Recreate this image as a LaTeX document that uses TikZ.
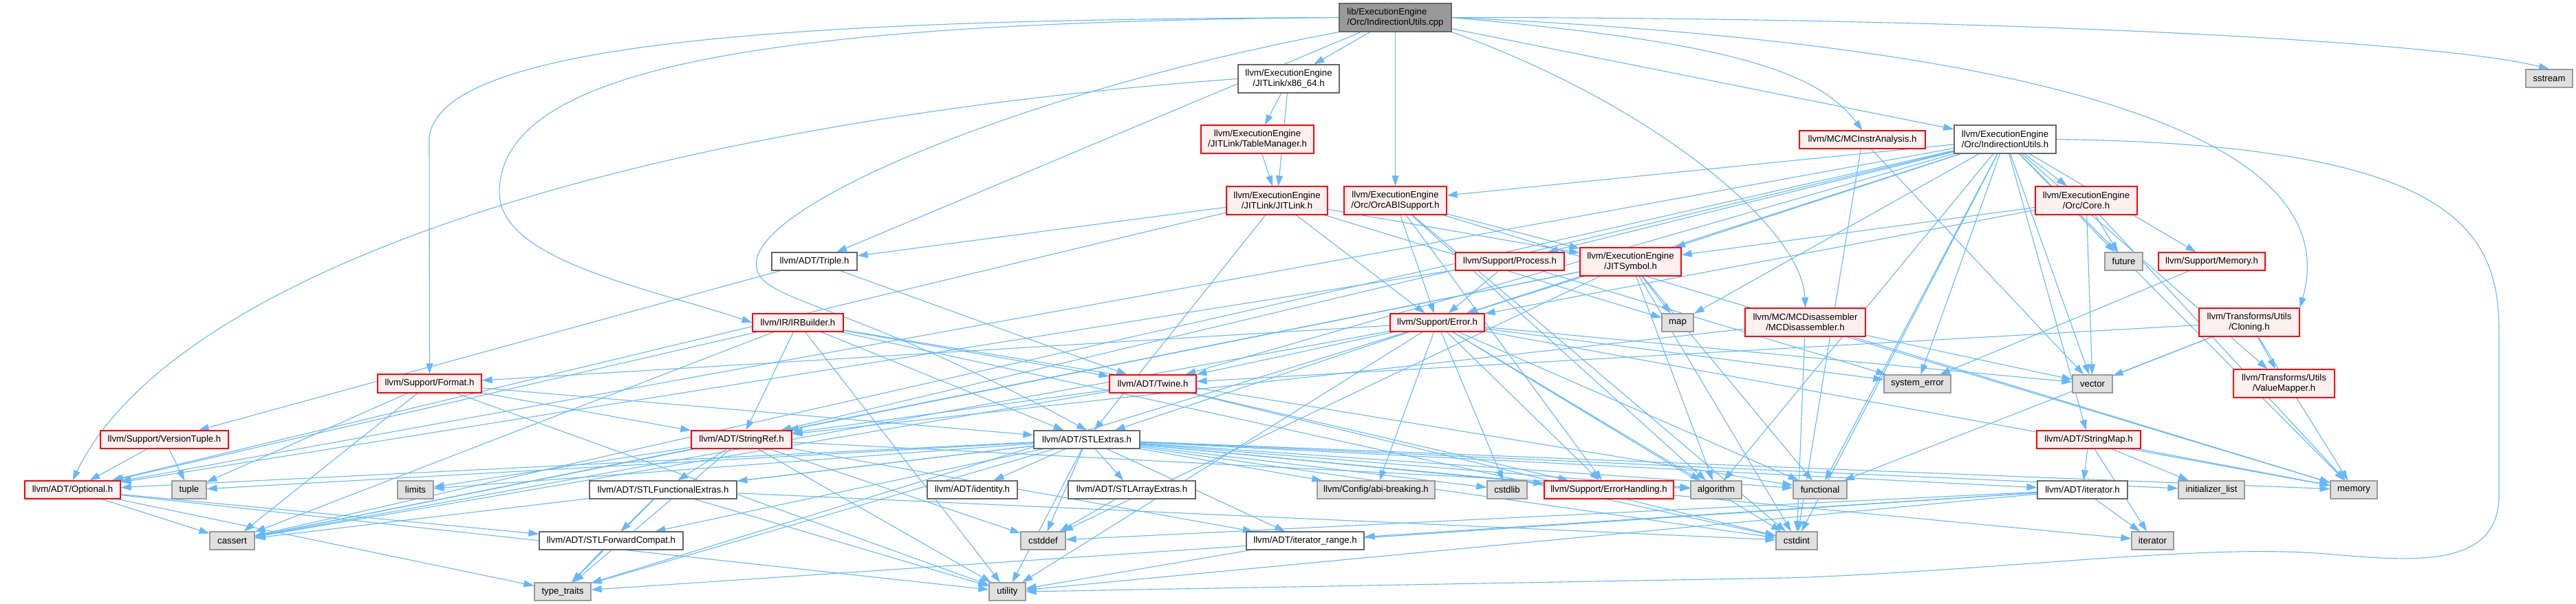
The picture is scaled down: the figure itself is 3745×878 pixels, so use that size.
\documentclass[tikz,border=0pt]{standalone}
\usepackage{fontspec}
\setmainfont{Liberation Sans}
\usetikzlibrary{arrows.meta,backgrounds}
\definecolor{edgec}{HTML}{63B8FF}
\definecolor{redb}{HTML}{FF0000}
\definecolor{redf}{HTML}{FFF0F0}
\definecolor{grayb}{HTML}{999999}
\definecolor{grayf}{HTML}{E0E0E0}
\definecolor{whiteb}{HTML}{666666}
\definecolor{rootf}{HTML}{999999}
\newcommand\gnode[7]{\node[#6, minimum width=#3pt-#2pt, minimum height=#5pt-#4pt] (#1) at ({(#2+#3)/2},{(#4+#5)/2}) {#7};}
\begin{document}
\begin{tikzpicture}[x=1pt,y=-1pt,
  nbase/.style={draw, line width=1.2pt, inner sep=0pt, align=center, text=black, font=\fontsize{13.2}{15}\selectfont},
  redbox/.style={nbase, draw=redb, fill=redf},
  graybox/.style={nbase, draw=grayb, fill=grayf},
  whitebox/.style={nbase, draw=whiteb, fill=white},
  rootbox/.style={nbase, draw=whiteb, fill=rootf, align=left},
  edg/.style={draw=edgec, line width=1.1pt, -{Triangle[length=15pt,width=10pt]}}]
\useasboundingbox (0,0) rectangle (3745,878);
% nodes
\gnode{root}{1947}{2110}{5}{46}{rootbox}{lib/ExecutionEngine\\/Orc/IndirectionUtils.cpp}
\gnode{x86}{1800}{1947}{94}{135}{whitebox}{llvm/ExecutionEngine\\/JITLink/x86\_64.h}
\gnode{tblmgr}{1746}{1910}{182}{223}{redbox}{llvm/ExecutionEngine\\/JITLink/TableManager.h}
\gnode{jitlink}{1783}{1930}{271}{312}{redbox}{llvm/ExecutionEngine\\/JITLink/JITLink.h}
\gnode{orcabi}{1954}{2103}{271}{312}{redbox}{llvm/ExecutionEngine\\/Orc/OrcABISupport.h}
\gnode{mcinstr}{2616}{2799}{190}{216}{redbox}{llvm/MC/MCInstrAnalysis.h}
\gnode{indir}{2841}{2989}{182}{223}{whitebox}{llvm/ExecutionEngine\\/Orc/IndirectionUtils.h}
\gnode{core}{2959}{3107}{271}{312}{redbox}{llvm/ExecutionEngine\\/Orc/Core.h}
\gnode{sstream}{3672}{3740}{101}{127}{graybox}{sstream}
\gnode{format}{549}{700}{544}{571}{redbox}{llvm/Support/Format.h}
\gnode{triple}{1122}{1246}{367}{393}{whitebox}{llvm/ADT/Triple.h}
\gnode{irb}{1094}{1226}{456}{482}{redbox}{llvm/IR/IRBuilder.h}
\gnode{twine}{1613}{1739}{545}{571}{redbox}{llvm/ADT/Twine.h}
\gnode{process}{2116}{2274}{367}{393}{redbox}{llvm/Support/Process.h}
\gnode{jitsym}{2297}{2444}{360}{401}{redbox}{llvm/ExecutionEngine\\/JITSymbol.h}
\gnode{error}{2021}{2158}{456}{482}{redbox}{llvm/Support/Error.h}
\gnode{map}{2416}{2462}{456}{482}{graybox}{map}
\gnode{mcdis}{2537}{2712}{448}{489}{redbox}{llvm/MC/MCDisassembler\\/MCDisassembler.h}
\gnode{future}{3060}{3115}{367}{393}{graybox}{future}
\gnode{memoryh}{3138}{3293}{367}{393}{redbox}{llvm/Support/Memory.h}
\gnode{cloning}{3197}{3343}{448}{489}{redbox}{llvm/Transforms/Utils\\/Cloning.h}
\gnode{vmap}{3247}{3394}{537}{578}{redbox}{llvm/Transforms/Utils\\/ValueMapper.h}
\gnode{syserr}{2739}{2836}{545}{571}{graybox}{system\_error}
\gnode{vector}{3013}{3071}{545}{571}{graybox}{vector}
\gnode{vtuple}{146}{332}{626}{652}{redbox}{llvm/Support/VersionTuple.h}
\gnode{optional}{36}{175}{699}{725}{redbox}{llvm/ADT/Optional.h}
\gnode{tuple}{250}{300}{699}{725}{graybox}{tuple}
\gnode{limits}{578}{630}{699}{725}{graybox}{limits}
\gnode{cassert}{305}{370}{773}{799}{graybox}{cassert}
\gnode{fwdcompat}{784}{993}{773}{799}{whitebox}{llvm/ADT/STLForwardCompat.h}
\gnode{typetraits}{777}{859}{847}{873}{graybox}{type\_traits}
\gnode{funcext}{857}{1071}{699}{725}{whitebox}{llvm/ADT/STLFunctionalExtras.h}
\gnode{stringref}{1005}{1151}{626}{652}{redbox}{llvm/ADT/StringRef.h}
\gnode{stlextras}{1503}{1657}{626}{652}{whitebox}{llvm/ADT/STLExtras.h}
\gnode{identity}{1348}{1479}{699}{725}{whitebox}{llvm/ADT/identity.h}
\gnode{arrayext}{1553}{1738}{699}{725}{whitebox}{llvm/ADT/STLArrayExtras.h}
\gnode{cstddef}{1484}{1549}{773}{799}{graybox}{cstddef}
\gnode{utility}{1438}{1491}{847}{873}{graybox}{utility}
\gnode{itrange}{1812}{1983}{773}{799}{whitebox}{llvm/ADT/iterator\_range.h}
\gnode{abi}{1915}{2086}{699}{725}{graybox}{llvm/Config/abi-breaking.h}
\gnode{cstdlib}{2162}{2220}{699}{725}{graybox}{cstdlib}
\gnode{errhand}{2245}{2433}{699}{725}{redbox}{llvm/Support/ErrorHandling.h}
\gnode{algorithm}{2458}{2532}{699}{725}{graybox}{algorithm}
\gnode{functional}{2607}{2685}{699}{725}{graybox}{functional}
\gnode{cstdint}{2582}{2642}{773}{799}{graybox}{cstdint}
\gnode{stringmap}{2961}{3112}{626}{652}{redbox}{llvm/ADT/StringMap.h}
\gnode{iteratorh}{2962}{3093}{699}{725}{whitebox}{llvm/ADT/iterator.h}
\gnode{initlist}{3167}{3263}{699}{725}{graybox}{initializer\_list}
\gnode{memory}{3388}{3456}{699}{725}{graybox}{memory}
\gnode{iterator}{3099}{3160}{773}{799}{graybox}{iterator}
% edges
\begin{pgfonlayer}{background}
\fill[white] (0,0) rectangle (3745,878);
\draw[edg] (root.west) .. controls (1200,28) and (640,55) .. (624,200) -- (format.north);
\draw[edg] (root.west) .. controls (1150,32) and (726,90) .. (726,280) .. controls (726,380) and (950,420) .. (irb.west);
\draw[edg] (root.south west) .. controls (1500,130) and (1080,300) .. (1100,390) .. controls (1110,440) and (1240,440) .. (stlextras.north);
\draw[edg] (root.east) .. controls (2900,25) and (3550,60) .. (sstream.north);
\draw[edg] (root.east) .. controls (2900,60) and (3420,180) .. (cloning.north east);
\draw[edg] (root.east) .. controls (2500,60) and (2640,100) .. (mcinstr.north);
\draw[edg] (root.south east) .. controls (2400,150) and (2620,330) .. (mcdis.north);
\draw[edg] (x86.west) .. controls (900,180) and (250,400) .. (optional.north);
\draw[edg] (indir.east) .. controls (3560,210) and (3633,330) .. (3633,480) -- (3633,720) .. controls (3633,830) and (3500,815) .. (3380,805) .. controls (3200,790) and (2900,830) .. (2600,840) -- (utility.east);
\foreach \a/\b in {root/indir, root/x86, root/orcabi, root/triple,
  x86/tblmgr, x86/jitlink, tblmgr/jitlink,
  jitlink/triple, jitlink/jitsym, jitlink/error, jitlink/stlextras, jitlink/optional, jitlink/map,
  orcabi/jitsym, orcabi/error, orcabi/errhand, orcabi/algorithm, orcabi/cstdint, orcabi/memory,
  mcinstr/cstdint, mcinstr/vector,
  indir/stringmap, indir/stringref, indir/twine, indir/jitsym, indir/core, indir/orcabi, indir/error,
  indir/memoryh, indir/process, indir/map, indir/algorithm, indir/cassert, indir/cstdint, indir/functional,
  indir/future, indir/memory, indir/syserr, indir/vector, indir/optional, indir/vmap,
  core/jitsym, core/future, core/vector, core/memory, core/error,
  process/error, process/optional, process/syserr,
  jitsym/error, jitsym/map, jitsym/stringref, jitsym/algorithm, jitsym/cassert, jitsym/cstddef, jitsym/cstdint, jitsym/functional,
  error/stlextras, error/twine, error/abi, error/errhand, error/format, error/algorithm, error/cassert, error/cstdint,
  error/cstdlib, error/functional, error/memory, error/syserr, error/vector, error/typetraits, error/utility,
  mcdis/stringref, mcdis/cstdint, mcdis/memory, mcdis/vector,
  memoryh/syserr,
  cloning/twine, cloning/vmap, cloning/vector, cloning/functional, cloning/memory,
  format/stringref, format/stlextras, format/cassert, format/tuple, format/utility,
  triple/twine, triple/vtuple,
  vtuple/optional, vtuple/tuple,
  irb/twine, irb/stringref, irb/stlextras, irb/optional, irb/cassert, irb/cstdint, irb/functional, irb/utility,
  twine/stringref, twine/errhand, twine/cassert, twine/cstdint,
  stringref/funcext, stringref/itrange, stringref/algorithm, stringref/cassert, stringref/cstddef, stringref/limits, stringref/typetraits, stringref/utility,
  stlextras/identity, stlextras/arrayext, stlextras/cstddef, stlextras/utility, stlextras/funcext, stlextras/fwdcompat,
  stlextras/typetraits, stlextras/itrange, stlextras/abi, stlextras/cstdlib, stlextras/errhand, stlextras/algorithm,
  stlextras/functional, stlextras/cstdint, stlextras/iteratorh, stlextras/initlist, stlextras/memory, stlextras/iterator,
  stlextras/limits, stlextras/tuple, stlextras/cassert, stlextras/optional,
  arrayext/cstddef,
  funcext/fwdcompat, funcext/cstdint, funcext/typetraits, funcext/utility,
  fwdcompat/typetraits,
  optional/cassert, optional/fwdcompat, optional/typetraits, optional/utility,
  itrange/utility,
  iteratorh/itrange, iteratorh/cstddef, iteratorh/iterator, iteratorh/typetraits, iteratorh/utility,
  stringmap/iteratorh, stringmap/initlist, stringmap/iterator, stringmap/memory}
  \draw[edg] (\a) -- (\b);
\end{pgfonlayer}
\end{tikzpicture}
\end{document}
